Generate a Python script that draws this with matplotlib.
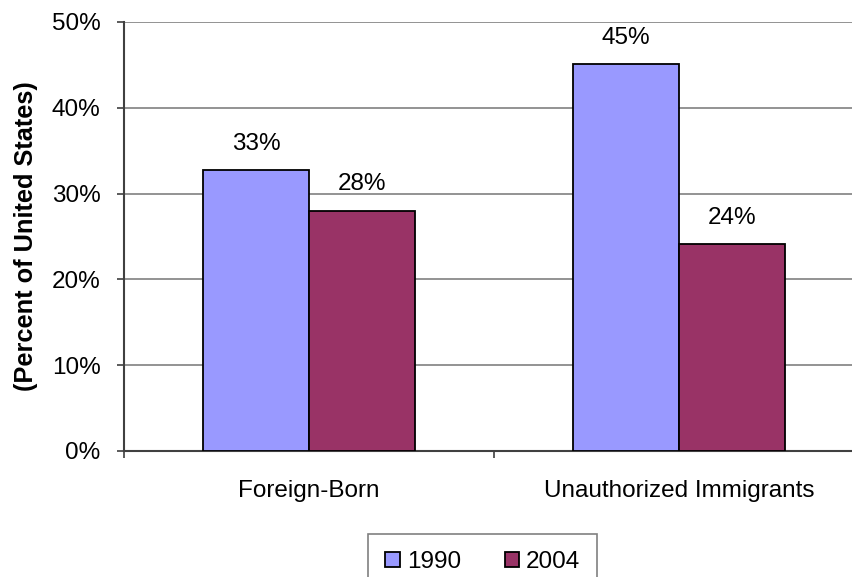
import numpy as np
import matplotlib
matplotlib.use("Agg")
from matplotlib import pyplot as plt

# values (percent of United States)
categories = ["Foreign-Born", "Unauthorized Immigrants"]
years = ["1990", "2004"]
share_1990 = [32.7, 45.1]
share_2004 = [28.0, 24.1]
labels_1990 = ["33%", "45%"]
labels_2004 = ["28%", "24%"]
yticks = [0, 10, 20, 30, 40, 50]

plt.rcParams['font.family'] = ['Liberation Sans', 'DejaVu Sans']

fig = plt.figure(figsize=(8.53, 5.77), dpi=100)
ax = fig.add_axes([0.1454, 0.2184, 0.8676, 0.7435])

x = np.arange(len(categories))
w = 1 / 3.5  # excel gap width 150%

b1 = ax.bar(x - w / 2, share_1990, w, color="#9999FF", edgecolor="black", linewidth=1.3,
            label=years[0], zorder=3)
b2 = ax.bar(x + w / 2, share_2004, w, color="#993366", edgecolor="black", linewidth=1.3,
            label=years[1], zorder=3)

# data labels above bars
for bars, labs in [(b1, labels_1990), (b2, labels_2004)]:
    for rect, lab in zip(bars, labs):
        ax.annotate(lab, (rect.get_x() + rect.get_width() / 2, rect.get_height()),
                    xytext=(0, 19), textcoords="offset points",
                    ha="center", va="center", fontsize=17.5)

ax.set_xlim(-0.5, len(categories) - 0.5)
ax.set_ylim(0, 50)
ax.set_yticks(yticks)
ax.set_yticklabels([f"{t}%" for t in yticks], fontsize=17.5)
ax.yaxis.grid(True, color="#808080", linewidth=1.2, zorder=0)

# category labels between boundary ticks
ax.set_xticks(x)
ax.set_xticklabels(categories, fontsize=17.5)
ax.tick_params(axis="x", length=0, pad=21)
ax.set_xticks(np.arange(-0.5, len(categories) + 0.5, 1), minor=True)
ax.tick_params(axis="x", which="minor", length=5, width=1.2, color="#404040", direction="out")
ax.tick_params(axis="y", length=5, width=1.2, color="#404040", pad=12)

for side in ["top", "right"]:
    ax.spines[side].set_visible(False)
ax.spines["left"].set_color("#404040")
ax.spines["left"].set_linewidth(1.5)
ax.spines["bottom"].set_color("#404040")
ax.spines["bottom"].set_linewidth(1.5)

ax.set_ylabel("(Percent of United States)", fontsize=18.3, fontweight="bold", labelpad=10)

leg = fig.legend(loc="upper center", bbox_to_anchor=(0.566, 0.0745), ncol=2, fontsize=17.5,
                 frameon=True, fancybox=False, edgecolor="#606060", handlelength=0.6,
                 handleheight=0.6, handletextpad=0.28, columnspacing=1.8, borderpad=0.7,
                 borderaxespad=0)
leg.get_frame().set_linewidth(1.2)

fig.savefig("out.png", dpi=100)
